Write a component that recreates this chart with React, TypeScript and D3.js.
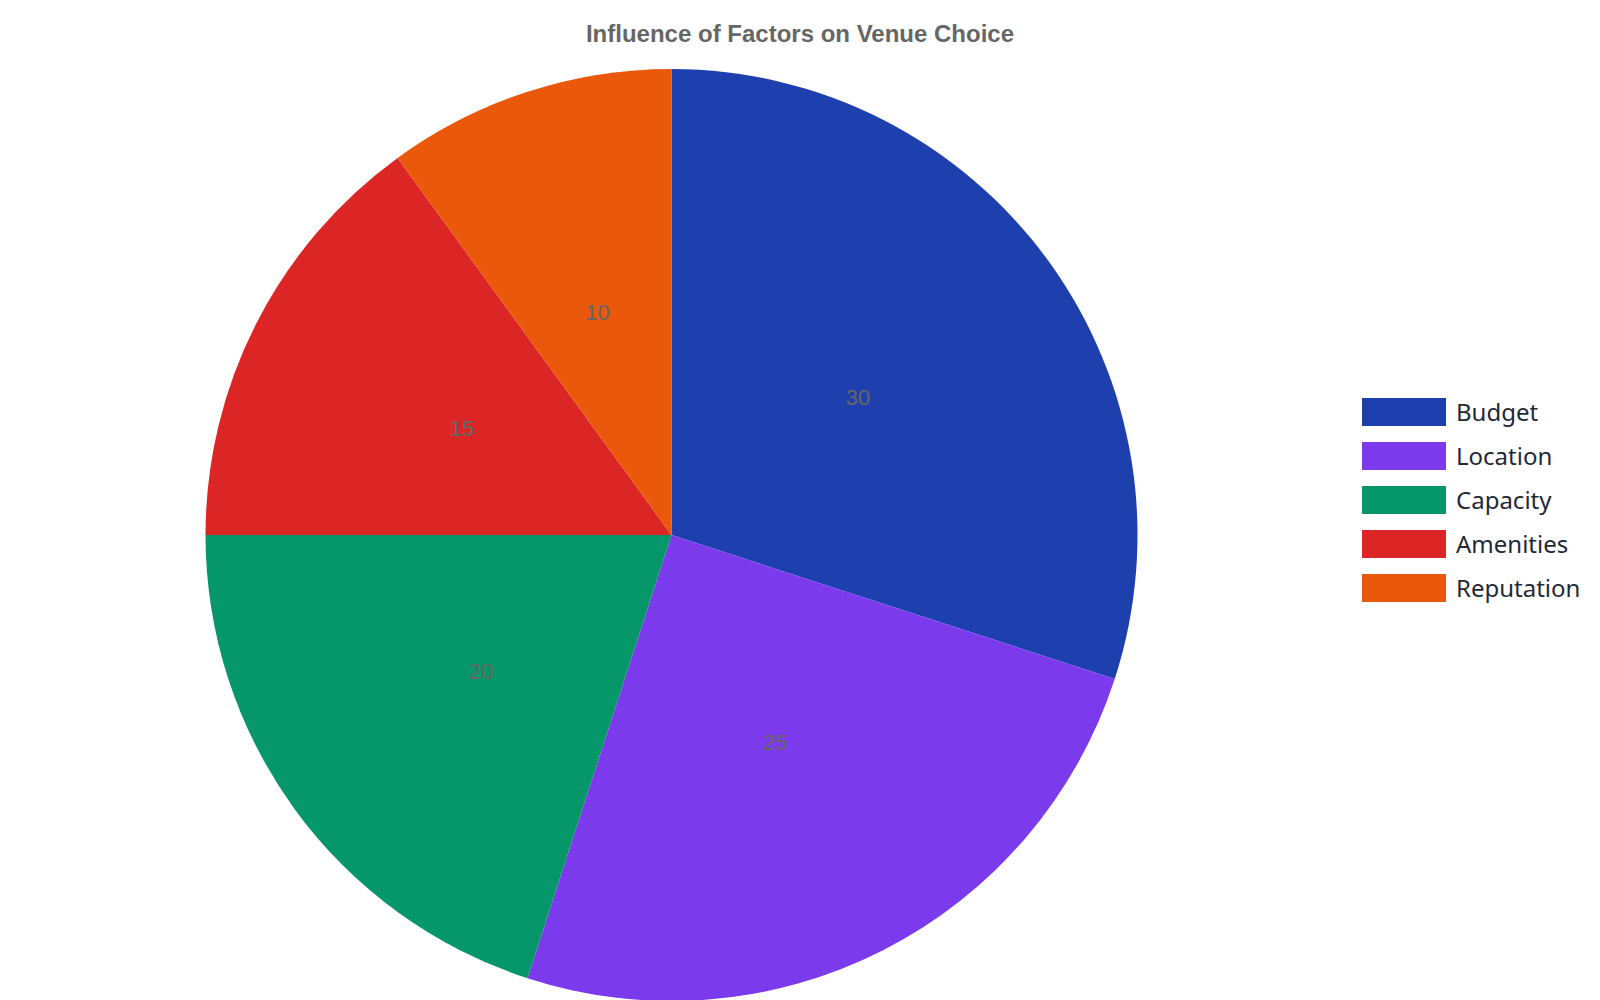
import React from "react";
import * as d3 from "d3";

const categories = ["Budget", "Location", "Capacity", "Amenities", "Reputation"];
const values = [30, 25, 20, 15, 10];
const colors = ["#1e40af", "#7c3aed", "#059669", "#dc2626", "#ea580c"];
const title = "Influence of Factors on Venue Choice";

export default function App() {
  const W = 1600;
  const H = 1000;
  const cx = 671.5;
  const cy = 535;
  const r = 466;

  const data = categories.map((c, i) => ({ name: c, value: values[i], color: colors[i] }));
  const pie = d3.pie<any>().value((d: any) => d.value).sort(null);
  const arcs = pie(data);
  const arc = d3.arc<any>().innerRadius(0).outerRadius(r);

  const legendX = 1362;
  const legendY = 398;
  const legendStep = 44;

  return (
    <svg
      width={W}
      height={H}
      style={{ position: "absolute", left: 0, top: 0, background: "#fff" }}
    >
      <text
        x={W / 2}
        y={42}
        textAnchor="middle"
        fontFamily="'Liberation Sans', Arial, sans-serif"
        fontWeight="bold"
        fontSize={24}
        fill="#666666"
      >
        {title}
      </text>
      <g transform={`translate(${cx},${cy})`}>
        {arcs.map((a, i) => (
          <path key={i} d={arc(a) as string} fill={a.data.color} />
        ))}
        {arcs.map((a, i) => {
          const [lx, ly] = arc.centroid(a);
          return (
            <text
              key={"l" + i}
              x={lx - 2}
              y={ly + 7}
              textAnchor="middle"
              fontFamily="'Liberation Sans', Arial, sans-serif"
              fontSize={22}
              fill="#666666"
            >
              {a.data.value}
            </text>
          );
        })}
      </g>
      <g>
        {data.map((d, i) => (
          <g key={i} transform={`translate(${legendX},${legendY + i * legendStep})`}>
            <rect x={0} y={0} width={84} height={28} fill={d.color} />
            <text
              x={94}
              y={23}
              fontFamily="'Noto Sans', sans-serif"
              fontSize={24}
              fill="#1f2937"
            >
              {d.name}
            </text>
          </g>
        ))}
      </g>
    </svg>
  );
}
